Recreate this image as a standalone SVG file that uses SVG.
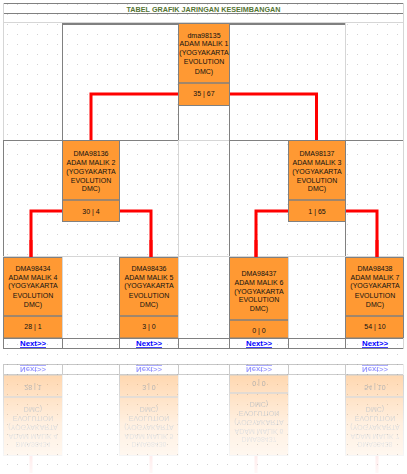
<svg xmlns="http://www.w3.org/2000/svg" xmlns:xlink="http://www.w3.org/1999/xlink" width="407" height="474" viewBox="0 0 407 474">
<defs>
<pattern id="dots" width="10" height="10" patternUnits="userSpaceOnUse"><rect x="7" y="4" width="1" height="1" fill="#d2d2d2"/></pattern>
<linearGradient id="fadeG" gradientUnits="userSpaceOnUse" x1="0" y1="362" x2="0" y2="474">
<stop offset="0" stop-color="#fff" stop-opacity="0.45"/>
<stop offset="0.55" stop-color="#fff" stop-opacity="0.15"/>
<stop offset="1" stop-color="#fff" stop-opacity="0.03"/>
</linearGradient>
<mask id="fade" maskUnits="userSpaceOnUse" x="0" y="0" width="407" height="474"><rect x="0" y="351" width="407" height="123" fill="url(#fadeG)"/></mask>
</defs>
<style>
.dk{stroke:#808080;stroke-width:1;fill:none}
.dk2{stroke:#808080;stroke-width:2;fill:none}
.lt{stroke:#d6d6d6;stroke-width:1;fill:none}
.box{fill:#ff9933;stroke:#808080;stroke-width:1}
.div{stroke:#808080;stroke-width:1.5}
.t{font-family:"Liberation Sans",Arial,sans-serif;font-size:7px;fill:#111;text-anchor:middle}
.nx{font-family:"Liberation Sans",Arial,sans-serif;font-size:7.5px;font-weight:bold;fill:#0000ff;text-anchor:middle;text-decoration:underline}
.red{stroke:#ff0000;stroke-width:3;fill:none}
</style>
<rect width="407" height="474" fill="#fff"/>
<rect width="407" height="474" fill="url(#dots)"/>

<g id="title">
<path class="dk" d="M3 3.5H404M3 13.5H404"/>
<path class="lt" d="M3.5 3V23M403.5 3V23M3 22.5H404"/>
<text x="203.5" y="11.5" font-family="Liberation Sans,Arial,sans-serif" font-size="7" font-weight="bold" fill="#557535" text-anchor="middle" textLength="154" lengthAdjust="spacingAndGlyphs">TABEL GRAFIK JARINGAN KESEIMBANGAN</text>
</g>

<g id="grid">
<path class="dk2" d="M62 24H345"/>
<path class="dk" d="M62.5 23V140M178.5 106V140M229.5 106V140M3 140.5H178M229 140.5H404M3.5 140V257M229.5 140V257M345.5 140V257"/>
<path class="lt" d="M3.5 23V140M345.5 23V140M403.5 23V140M178 140.5H229M178.5 140V257M403.5 140V257M3 256.5H404"/>
</g>

<g id="connectors">
<path class="red" d="M178 94H91V140M229 94H316.5V140"/>
<path class="red" d="M62 211H31V257M119 211H151V257M288 211H256V257M345 211H377V257"/>
</g>

<g id="n1">
<rect class="box" x="178.5" y="23.5" width="51" height="82"/>
<line class="div" x1="178.5" y1="83" x2="229.5" y2="83"/>
<text class="t" x="204" y="37.5">dma98135</text>
<text class="t" x="204" y="46">ADAM MALIK 1</text>
<text class="t" x="204" y="55">(YOGYAKARTA</text>
<text class="t" x="204" y="64">EVOLUTION</text>
<text class="t" x="204" y="73.5">DMC)</text>
<text class="t" x="204" y="96">35 | 67</text>
</g>

<g id="n2">
<rect class="box" x="62.5" y="140.5" width="57" height="81"/>
<line class="div" x1="62.5" y1="200" x2="119.5" y2="200"/>
<text class="t" x="91" y="156">DMA98136</text>
<text class="t" x="91" y="165">ADAM MALIK 2</text>
<text class="t" x="91" y="173.5">(YOGYAKARTA</text>
<text class="t" x="91" y="182.5">EVOLUTION</text>
<text class="t" x="91" y="191">DMC)</text>
<text class="t" x="91" y="213.5">30 | 4</text>
</g>

<g id="n3">
<rect class="box" x="288.5" y="140.5" width="57" height="81"/>
<line class="div" x1="288.5" y1="200" x2="345.5" y2="200"/>
<text class="t" x="317" y="156">DMA98137</text>
<text class="t" x="317" y="165">ADAM MALIK 3</text>
<text class="t" x="317" y="173.5">(YOGYAKARTA</text>
<text class="t" x="317" y="182.5">EVOLUTION</text>
<text class="t" x="317" y="191">DMC)</text>
<text class="t" x="317" y="213.5">1 | 65</text>
</g>

<g id="row3">
<g id="n4">
<rect class="box" x="3.5" y="257.5" width="59" height="80.5"/>
<line class="div" x1="3.5" y1="316" x2="62.5" y2="316"/>
<text class="t" x="33" y="271">DMA98434</text>
<text class="t" x="33" y="279.5">ADAM MALIK 4</text>
<text class="t" x="33" y="288">(YOGYAKARTA</text>
<text class="t" x="33" y="297.5">EVOLUTION</text>
<text class="t" x="33" y="306.5">DMC)</text>
<text class="t" x="33" y="328.5">28 | 1</text>
</g>
<g id="n5">
<rect class="box" x="119.5" y="257.5" width="59" height="80.5"/>
<line class="div" x1="119.5" y1="316" x2="178.5" y2="316"/>
<text class="t" x="149" y="271">DMA98436</text>
<text class="t" x="149" y="279.5">ADAM MALIK 5</text>
<text class="t" x="149" y="288">(YOGYAKARTA</text>
<text class="t" x="149" y="297.5">EVOLUTION</text>
<text class="t" x="149" y="306.5">DMC)</text>
<text class="t" x="149" y="328.5">3 | 0</text>
</g>
<g id="n6">
<rect class="box" x="229.5" y="257.5" width="59" height="80.5"/>
<line class="div" x1="229.5" y1="320" x2="288.5" y2="320"/>
<text class="t" x="259" y="276">DMA98437</text>
<text class="t" x="259" y="284.5">ADAM MALIK 6</text>
<text class="t" x="259" y="293.5">(YOGYAKARTA</text>
<text class="t" x="259" y="302">EVOLUTION</text>
<text class="t" x="259" y="311">DMC)</text>
<text class="t" x="259" y="332.5">0 | 0</text>
</g>
<g id="n7">
<rect class="box" x="345.5" y="257.5" width="58" height="80.5"/>
<line class="div" x1="345.5" y1="316" x2="403.5" y2="316"/>
<text class="t" x="375" y="271">DMA98438</text>
<text class="t" x="375" y="279.5">ADAM MALIK 7</text>
<text class="t" x="375" y="288">(YOGYAKARTA</text>
<text class="t" x="375" y="297.5">EVOLUTION</text>
<text class="t" x="375" y="306.5">DMC)</text>
<text class="t" x="375" y="328.5">54 | 10</text>
</g>
<g id="nextrow">
<path class="lt" d="M62.5 257V338M178.5 257V338M288.5 257V338"/>
<path class="dk" d="M3 338.5H404M3 348.5H404M3.5 338V349M62.5 338V349M119.5 338V349M178.5 338V349M229.5 338V349M288.5 338V349M345.5 338V349"/>
<path class="lt" d="M403.5 338V349"/>
<text class="nx" x="33" y="346" textLength="26" lengthAdjust="spacingAndGlyphs">Next&gt;&gt;</text>
<text class="nx" x="149" y="346" textLength="26" lengthAdjust="spacingAndGlyphs">Next&gt;&gt;</text>
<text class="nx" x="259" y="346" textLength="26" lengthAdjust="spacingAndGlyphs">Next&gt;&gt;</text>
<text class="nx" x="375" y="346" textLength="26" lengthAdjust="spacingAndGlyphs">Next&gt;&gt;</text>
</g>
<path class="red" d="M31 240V257M151 240V257M256 240V257M377 240V257"/>
</g>

<g id="reflection" mask="url(#fade)">
<use xlink:href="#row3" href="#row3" transform="translate(0,713) scale(1,-1)"/>
</g>
</svg>
